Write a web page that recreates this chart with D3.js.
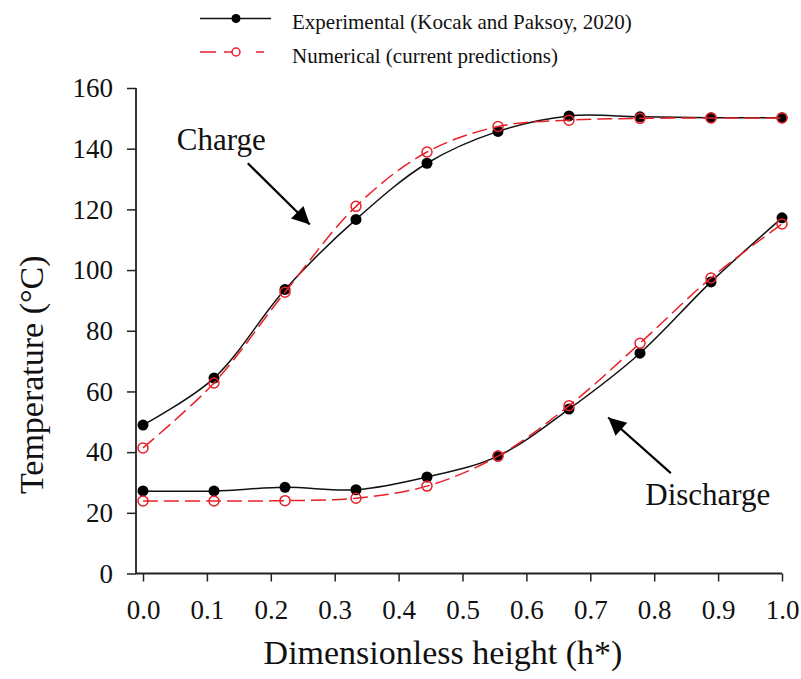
<!DOCTYPE html>
<html>
<head>
<meta charset="utf-8">
<script src="https://cdn.jsdelivr.net/npm/d3@7"></script>
<style>
  html, body { margin: 0; padding: 0; background: #fff; }
  svg text { font-family: "Liberation Serif", "Times New Roman", serif; }
</style>
</head>
<body>
<svg id="chart" width="801" height="679"></svg>
<script>
// Dimensionless height positions (10 thermocouple locations)
const heights = [0, 1/9, 2/9, 3/9, 4/9, 5/9, 6/9, 7/9, 8/9, 1];

// Temperatures (°C)
const chargeExp  = [48.9, 64.4, 93.6, 116.7, 135.2, 145.7, 150.8, 150.5, 150.2, 150.2];
const chargeNum  = [41.4, 62.8, 92.7, 121.0, 138.9, 147.3, 149.4, 150.0, 150.1, 150.1];
const dischExp   = [27.2, 27.2, 28.4, 27.6, 31.8, 38.7, 54.2, 72.6, 96.1, 117.2];
const dischNum   = [23.9, 23.9, 24.0, 24.8, 28.8, 38.7, 55.3, 75.9, 97.4, 115.2];

const xTicks = [0, 0.1, 0.2, 0.3, 0.4, 0.5, 0.6, 0.7, 0.8, 0.9, 1.0];
const yTicks = [0, 20, 40, 60, 80, 100, 120, 140, 160];

const legendLabels = ["Experimental (Kocak and Paksoy, 2020)", "Numerical (current predictions)"];

const SERIF = "Liberation Serif, Times New Roman, serif";
const svg = d3.select("#chart");

const x = d3.scaleLinear().domain([0, 1]).range([143, 782]);
const y = d3.scaleLinear().domain([0, 160]).range([573.5, 88]);
const axisX0 = 136;   // y-axis line position (left of the h*=0 tick)

const axisColor = "#222";

// X axis
const gx = svg.append("g").attr("transform", `translate(0,${y(0)})`)
  .call(d3.axisBottom(x).tickValues(xTicks).tickFormat(d3.format(".1f")).tickSize(8).tickSizeOuter(0));
gx.attr("font-family", SERIF);
gx.select(".domain").remove();
gx.selectAll(".tick line").attr("stroke", axisColor).attr("stroke-width", 1.5);
gx.selectAll(".tick text").attr("font-size", 27).attr("fill", "#111").attr("dy", "1.27em");
svg.append("line").attr("x1", axisX0).attr("x2", x(1)).attr("y1", y(0)).attr("y2", y(0))
  .attr("stroke", axisColor).attr("stroke-width", 1.8);

// Y axis
const gy = svg.append("g").attr("transform", `translate(${axisX0},0)`)
  .call(d3.axisLeft(y).tickValues(yTicks).tickSize(9).tickSizeOuter(0).tickPadding(14));
gy.attr("font-family", SERIF);
gy.select(".domain").remove();
gy.selectAll(".tick line").attr("stroke", axisColor).attr("stroke-width", 1.5);
gy.selectAll(".tick text").attr("font-size", 27).attr("fill", "#111");
svg.append("line").attr("x1", axisX0).attr("x2", axisX0).attr("y1", y(0)).attr("y2", y(160))
  .attr("stroke", axisColor).attr("stroke-width", 1.8);

// Axis titles
svg.append("text").attr("x", 443).attr("y", 664).attr("text-anchor", "middle")
  .attr("font-family", SERIF).attr("font-size", 34).attr("fill", "#111").text("Dimensionless height (h*)");
svg.append("text").attr("transform", `translate(43,${(y(0) + y(160)) / 2 + 44}) rotate(-90)`)
  .attr("text-anchor", "middle").attr("font-family", SERIF).attr("font-size", 34).attr("fill", "#111")
  .text("Temperature (°C)");

// Series
const line = d3.line().x((d, i) => x(heights[i])).y(d => y(d)).curve(d3.curveCatmullRom.alpha(0.5));

function drawExp(vals) {
  svg.append("path").datum(vals).attr("d", line).attr("fill", "none")
    .attr("stroke", "#111").attr("stroke-width", 1.5);
  svg.append("g").selectAll("circle").data(vals).join("circle")
    .attr("cx", (d, i) => x(heights[i])).attr("cy", d => y(d)).attr("r", 5.5).attr("fill", "#000");
}
function drawNum(vals) {
  svg.append("path").datum(vals).attr("d", line).attr("fill", "none")
    .attr("stroke", "#e8202a").attr("stroke-width", 1.5).attr("stroke-dasharray", "15,6");
  svg.append("g").selectAll("circle").data(vals).join("circle")
    .attr("cx", (d, i) => x(heights[i])).attr("cy", d => y(d)).attr("r", 5)
    .attr("fill", "none").attr("stroke", "#e8202a").attr("stroke-width", 1.5);
}
drawExp(chargeExp);
drawExp(dischExp);
drawNum(chargeNum);
drawNum(dischNum);

// Annotations with arrows
const defs = svg.append("defs");
defs.append("marker").attr("id", "head").attr("viewBox", "0 0 10 10")
  .attr("refX", 10).attr("refY", 5).attr("markerWidth", 9).attr("markerHeight", 8)
  .attr("markerUnits", "strokeWidth").attr("orient", "auto")
  .append("path").attr("d", "M0,0 L10,5 L0,10 Z").attr("fill", "#000");

function arrow(x1, y1, x2, y2) {
  svg.append("line").attr("x1", x(x1)).attr("y1", y(y1)).attr("x2", x(x2)).attr("y2", y(y2))
    .attr("stroke", "#000").attr("stroke-width", 2.2).attr("marker-end", "url(#head)");
}
svg.append("text").attr("x", x(0.053)).attr("y", y(139.5)).attr("font-family", SERIF)
  .attr("font-size", 31).attr("fill", "#111").text("Charge");
arrow(0.164, 135.2, 0.261, 115.0);
svg.append("text").attr("x", x(0.786)).attr("y", y(22.6)).attr("font-family", SERIF)
  .attr("font-size", 31).attr("fill", "#111").text("Discharge");
arrow(0.826, 33.1, 0.728, 51.4);

// Legend
const leg = svg.append("g");
leg.append("line").attr("x1", 200).attr("x2", 271).attr("y1", 18.5).attr("y2", 18.5)
  .attr("stroke", "#111").attr("stroke-width", 1.5);
leg.append("circle").attr("cx", 236).attr("cy", 18.5).attr("r", 4.5).attr("fill", "#000");
leg.append("line").attr("x1", 200).attr("x2", 271).attr("y1", 52).attr("y2", 52)
  .attr("stroke", "#e8202a").attr("stroke-width", 1.5).attr("stroke-dasharray", "16,8,16");
leg.append("circle").attr("cx", 236).attr("cy", 52).attr("r", 4).attr("fill", "#fff")
  .attr("stroke", "#e8202a").attr("stroke-width", 1.5);
leg.selectAll("text").data(legendLabels).join("text")
  .attr("x", 292).attr("y", (d, i) => 29 + i * 34).attr("font-family", SERIF)
  .attr("font-size", 21).attr("fill", "#111").text(d => d);
</script>
</body>
</html>
